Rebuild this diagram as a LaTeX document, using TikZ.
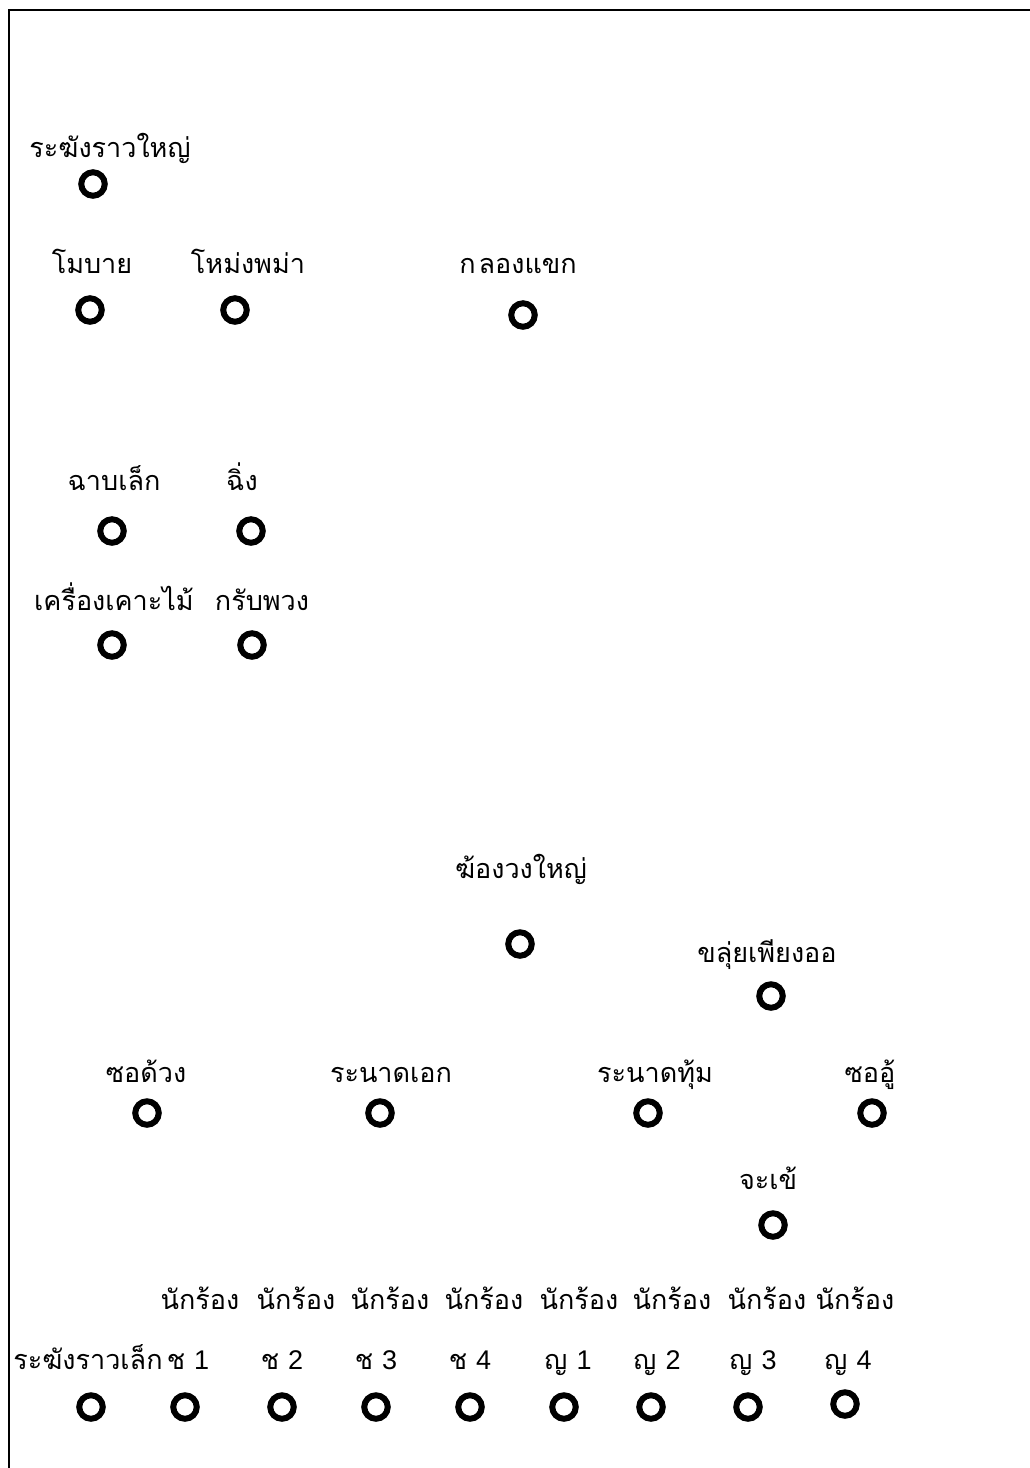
\documentclass[tikz,border=0pt]{standalone}
\usepackage{fontspec}
\newfontfamily\thaifont[Script=Thai]{Loma}
\newfontfamily\digitfont{Liberation Sans}
\newcommand{\dg}[1]{{\digitfont #1}}
\begin{document}
\begin{tikzpicture}[x=1pt,y=-1pt,
  ring/.style={circle,draw=black,line width=6pt,minimum size=23.5pt,inner sep=0pt},
  lbl/.style={anchor=base,inner sep=0pt,font=\thaifont\fontsize{27}{30}\selectfont},
  frameline/.style={line width=2pt,draw=black}]
\useasboundingbox (0,0) rectangle (1030,1468);
\coordinate (fA) at (8.5,1468);
\coordinate (fB) at (8.5,10);
\coordinate (fC) at (1030,10);
\draw[frameline] (fA) -- (fB) -- (fC);
% top group
\node[lbl] (t1) at (110,157) {ระฆังราวใหญ่};
\node[ring] (c1) at (93,184) {};
\node[lbl] (t2) at (92,273) {โมบาย};
\node[ring] (c2) at (90,310) {};
\node[lbl] (t3) at (248,273) {โหม่งพม่า};
\node[ring] (c3) at (235,310) {};
\node[lbl] (t4) at (518,273) {ก\hspace{3pt}ลองแขก};
\node[ring] (c4) at (523,315) {};
\node[lbl] (t5) at (114,490) {ฉาบเล็ก};
\node[ring] (c5) at (112,531) {};
\node[lbl] (t6) at (242,490) {ฉิ่ง};
\node[ring] (c6) at (251,531) {};
\node[lbl] (t7) at (114,610) {เครื่องเคาะไม้};
\node[ring] (c7) at (112,645) {};
\node[lbl] (t8) at (262,610) {กรับพวง};
\node[ring] (c8) at (252,645) {};
% middle group
\node[lbl] (t9) at (521,878) {ฆ้องวงใหญ่};
\node[ring] (c9) at (520,944) {};
\node[lbl] (t10) at (767,962) {ขลุ่ยเพียงออ};
\node[ring] (c10) at (771,996) {};
\node[lbl] (t11) at (146,1082) {ซอด้วง};
\node[ring] (c11) at (147,1113) {};
\node[lbl] (t12) at (391,1082) {ระนาดเอก};
\node[ring] (c12) at (380,1113) {};
\node[lbl] (t13) at (655,1082) {ระนาดทุ้ม};
\node[ring] (c13) at (648,1113) {};
\node[lbl] (t14) at (870,1082) {ซออู้};
\node[ring] (c14) at (872,1113) {};
\node[lbl] (t15) at (768,1189) {จะเข้};
\node[ring] (c15) at (773,1225) {};
% singers
\node[lbl] (s1) at (200,1309) {นักร้อง};
\node[lbl] (s2) at (296,1309) {นักร้อง};
\node[lbl] (s3) at (390,1309) {นักร้อง};
\node[lbl] (s4) at (484,1309) {นักร้อง};
\node[lbl] (s5) at (579,1309) {นักร้อง};
\node[lbl] (s6) at (672,1309) {นักร้อง};
\node[lbl] (s7) at (767,1309) {นักร้อง};
\node[lbl] (s8) at (855,1309) {นักร้อง};
\node[lbl] (b0) at (88,1369) {ระฆังราวเล็ก};
\node[lbl] (b1) at (188,1369) {ช \dg{1}};
\node[lbl] (b2) at (282,1369) {ช \dg{2}};
\node[lbl] (b3) at (376,1369) {ช \dg{3}};
\node[lbl] (b4) at (470,1369) {ช \dg{4}};
\node[lbl] (b5) at (568,1369) {ญ \dg{1}};
\node[lbl] (b6) at (657,1369) {ญ \dg{2}};
\node[lbl] (b7) at (753,1369) {ญ \dg{3}};
\node[lbl] (b8) at (848,1369) {ญ \dg{4}};
\node[ring] (r0) at (91,1407) {};
\node[ring] (r1) at (185,1407) {};
\node[ring] (r2) at (282,1407) {};
\node[ring] (r3) at (376,1407) {};
\node[ring] (r4) at (470,1407) {};
\node[ring] (r5) at (564,1407) {};
\node[ring] (r6) at (651,1407) {};
\node[ring] (r7) at (748,1407) {};
\node[ring] (r8) at (845,1404) {};
\end{tikzpicture}
\end{document}
